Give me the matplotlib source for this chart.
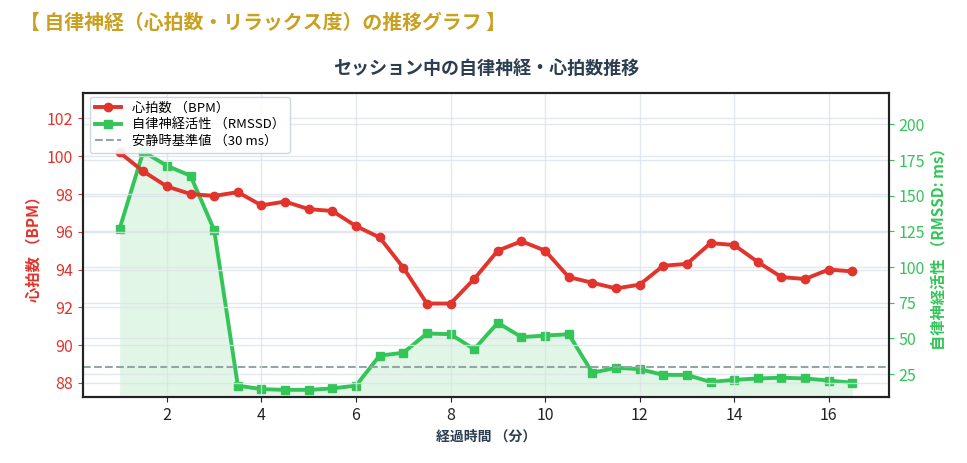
import numpy as np
import matplotlib
matplotlib.use('Agg')
import matplotlib.pyplot as plt

plt.rcParams['font.family'] = ['Noto Sans CJK JP', 'DejaVu Sans']

# 経過時間（分）
minutes = [1, 1.5, 2, 2.5, 3, 3.5, 4, 4.5, 5, 5.5, 6, 6.5, 7, 7.5, 8, 8.5,
           9, 9.5, 10, 10.5, 11, 11.5, 12, 12.5, 13, 13.5, 14, 14.5, 15, 15.5, 16, 16.5]
# 心拍数 (BPM)
heart_rate = [100.2, 99.2, 98.4, 98.0, 97.9, 98.1, 97.4, 97.6, 97.2, 97.1, 96.3, 95.7,
              94.1, 92.2, 92.2, 93.5, 95.0, 95.5, 95.0, 93.6, 93.3, 93.0, 93.2, 94.2,
              94.3, 95.4, 95.3, 94.4, 93.6, 93.5, 94.0, 93.9]
# 自律神経活性 (RMSSD: ms)
rmssd = [127, 181, 171, 164, 126, 17, 14.5, 14, 14, 15, 17, 38,
         40, 53.5, 53, 42.5, 61, 51, 52, 53, 26, 29.5, 28.5, 24.5,
         24.5, 19.5, 21, 22, 22.5, 22, 20.5, 19]
baseline = 30

RED = '#e0342c'
GREEN = '#34c559'

fig = plt.figure(figsize=(9.67, 4.63), dpi=100)
ax = fig.add_axes([83 / 967, 1 - 397 / 463, (889 - 83) / 967, (397 - 93) / 463])
ax2 = ax.twinx()

ax.plot(minutes, heart_rate, color=RED, lw=2.8, marker='o', ms=6, label='心拍数 （BPM）', zorder=3)
ax2.fill_between(minutes, rmssd, 0, color=GREEN, alpha=0.14, lw=0)
ax2.plot(minutes, rmssd, color=GREEN, lw=2.8, marker='s', ms=6, label='自律神経活性 （RMSSD）')
ax2.axhline(baseline, color='#95a5a6', ls='--', lw=1.5, label='安静時基準値 （30 ms）')

ax.set_zorder(ax2.get_zorder() + 1)
ax.patch.set_visible(False)

ax.set_ylim(87.25, 103.35)
ax2.set_ylim(9, 222)
ax.set_yticks(np.arange(88, 103, 2))
ax2.set_yticks(np.arange(25, 201, 25))

ax.grid(True, color='#dde3ec', lw=1, alpha=0.8)
ax2.grid(True, color='#dde3ec', lw=1, alpha=0.8)

ax.tick_params(axis='y', colors=RED, labelsize=11.5)
ax.tick_params(axis='x', colors='#222222', labelsize=11.5)
ax2.tick_params(axis='y', colors=GREEN, labelsize=11.5)
for a in (ax, ax2):
    for s in a.spines.values():
        s.set_linewidth(1.5)
        s.set_color('#222222')

ax.set_xlabel('経過時間 （分）', fontsize=10, fontweight='bold', color='#2c3e50')
ax.set_ylabel('心拍数 （BPM）', fontsize=11, fontweight='bold', color=RED)
ax2.set_ylabel('自律神経活性 （RMSSD: ms）', fontsize=11, fontweight='bold', color=GREEN)
ax.set_title('セッション中の自律神経・心拍数推移', fontsize=13, fontweight='bold',
             color='#2c3e50', pad=14)

h1, l1 = ax.get_legend_handles_labels()
h2, l2 = ax2.get_legend_handles_labels()
ax.legend(h1 + h2, l1 + l2, loc='upper left', fontsize=9.5, framealpha=0.9,
          edgecolor='#c8d2e0', labelspacing=0.25, borderpad=0.4,
          bbox_to_anchor=(0.0, 1.01))

fig.text(20 / 967, 1 - 22 / 463, '【 自律神経（心拍数・リラックス度）の推移グラフ 】',
         fontsize=14.3, fontweight='bold', color='#c9a020', va='center', ha='left')

plt.savefig('out.png', dpi=100)
plt.close()
